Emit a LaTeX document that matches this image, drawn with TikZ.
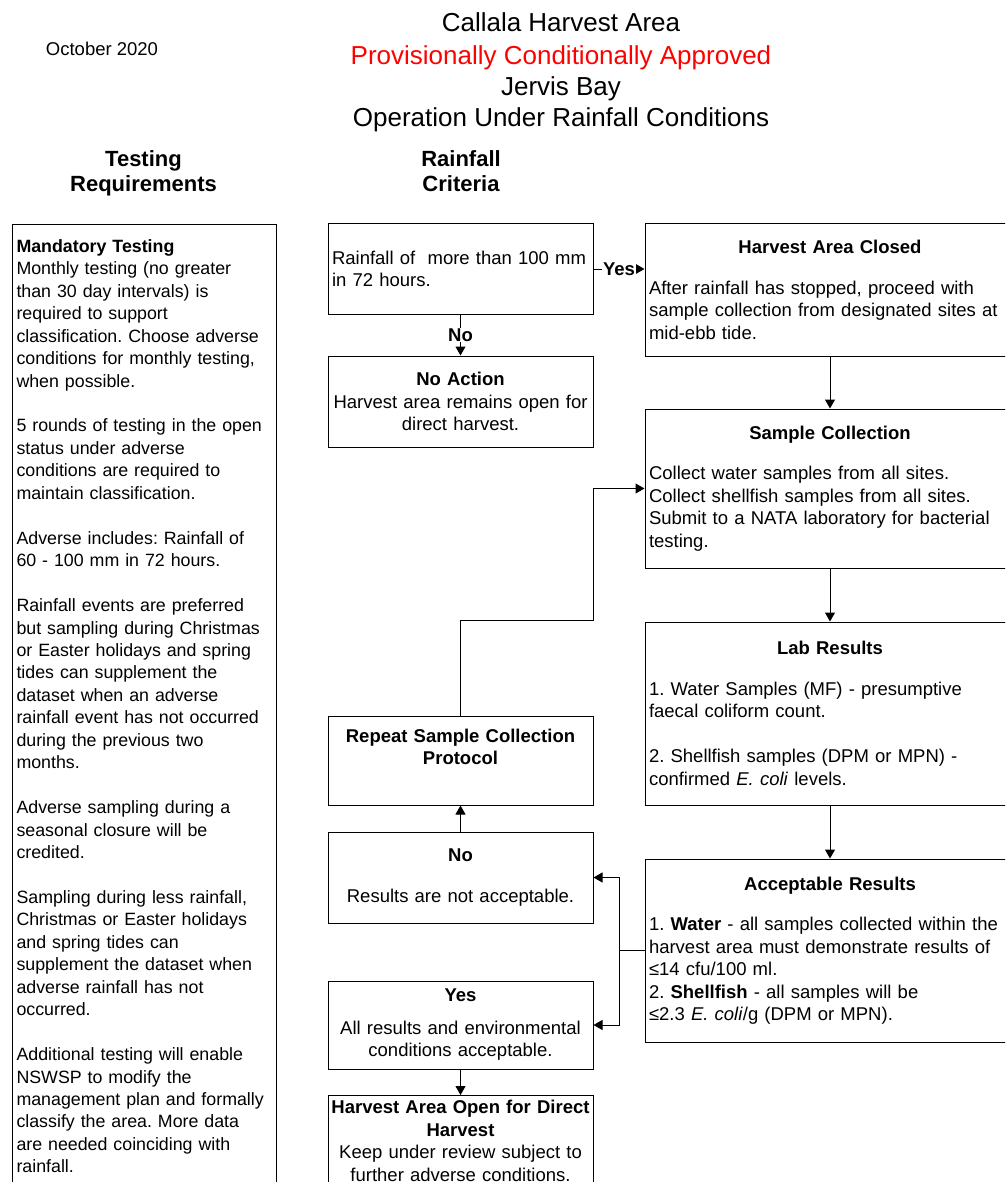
\documentclass[tikz,border=0pt]{standalone}
\usepackage{fontspec}
\setmainfont{Liberation Sans}
\usetikzlibrary{arrows.meta}
\frenchspacing
\newcommand\bodyfont{\fontsize{18.5}{22.5}\selectfont}
\newcommand\sidefont{\fontsize{17.8}{22.45}\selectfont}
\newcommand\boxhead[1]{\makebox[\hsize]{\textbf{#1}}}
\begin{document}
\begin{tikzpicture}[x=1pt, y=-1pt, >={Triangle[length=9pt,width=10pt]}, line width=1pt,
  flow/.style={draw, text width=#1, inner xsep=4pt, inner ysep=3pt, font=\bodyfont},
  flowl/.style={flow=257pt, align=center},
  flowr/.style={flow=362pt, align=left},
  tag/.style={fill=white, inner sep=1pt, font=\bodyfont\bfseries}]
\path[use as bounding box, clip](0,0) rectangle (1005,1182);

\foreach \txt/\yy/\col [count=\i] in {Callala Harvest Area/32/black, Provisionally Conditionally Approved/64.3/red, Jervis Bay/95.5/black, Operation Under Rainfall Conditions/126.7/black}
{
    \node[anchor=base, text=\col, font=\fontsize{26}{31}\selectfont](title\i) at (561,\yy){\txt};
}
\node[anchor=base, font=\bodyfont](date) at (102,55.5){October 2020};
\node[anchor=north, inner sep=0pt, align=center, font=\fontsize{22}{25.5}\selectfont\bfseries](testhead) at (143.5,150){Testing\\Requirements};
\node[anchor=north, inner sep=0pt, align=center, font=\fontsize{22}{25.5}\selectfont\bfseries](rainhead) at (461,150){Rainfall\\Criteria};

\node[draw, anchor=north west, text width=256pt, inner xsep=4pt, inner ysep=15pt, align=left, font=\sidefont](testreq) at (12,224){\textbf{Mandatory Testing}\\
Monthly testing (no greater\\
than 30 day intervals) is\\
required to support\\
classification. Choose adverse\\
conditions for monthly testing,\\
when possible.\\[22.45pt]
5 rounds of testing in the open\\
status under adverse\\
conditions are required to\\
maintain classification.\\[22.45pt]
Adverse includes: Rainfall of\\
60 - 100 mm in 72 hours.\\[22.45pt]
Rainfall events are preferred\\
but sampling during Christmas\\
or Easter holidays and spring\\
tides can supplement the\\
dataset when an adverse\\
rainfall event has not occurred\\
during the previous two\\
months.\\[22.45pt]
Adverse sampling during a\\
seasonal closure will be\\
credited.\\[22.45pt]
Sampling during less rainfall,\\
Christmas or Easter holidays\\
and spring tides can\\
supplement the dataset when\\
adverse rainfall has not\\
occurred.\\[22.45pt]
Additional testing will enable\\
NSWSP to modify the\\
management plan and formally\\
classify the area. More data\\
are needed coinciding with\\
rainfall.\rule[-40pt]{0pt}{0pt}};

\node[flow=257pt, align=left, minimum height=90pt](rain) at (460.5,269){Rainfall of\ \ more than 100 mm\\in 72 hours.};
\node[flowl, minimum height=91pt](noact) at (460.5,401.5){\textbf{No Action}\\Harvest area remains open for\\direct harvest.};
\node[flowr, minimum height=132pt](closed) at (830,290){\boxhead{Harvest Area Closed}\\[18pt]After rainfall has stopped, proceed with\\sample collection from designated sites at\\mid-ebb tide.};
\node[flowr, minimum height=159pt](sample) at (830,488.5){\boxhead{Sample Collection}\\[18pt]Collect water samples from all sites.\\Collect shellfish samples from all sites.\\Submit to a NATA laboratory for bacterial\\testing.};
\node[flowr, minimum height=183pt](lab) at (830,713.5){\boxhead{Lab Results}\\[18pt]1. Water Samples (MF) - presumptive\\faecal coliform count.\\[22.5pt]2. Shellfish samples (DPM or MPN) -\\confirmed \textit{E. coli} levels.};
\node[flowr, minimum height=183pt](accept) at (830,950.5){\boxhead{Acceptable Results}\\[18pt]1. \textbf{Water} - all samples collected within the\\harvest area must demonstrate results of\\≤14 cfu/100 ml.\\2. \textbf{Shellfish} - all samples will be\\≤2.3 \textit{E. coli}/g (DPM or MPN).};
\node[flowl, minimum height=89pt](repeat) at (460.5,760.5){\textbf{Repeat Sample Collection}\\\textbf{Protocol}\rule[-27pt]{0pt}{0pt}};
\node[flowl, minimum height=91pt](nores) at (460.5,877.5){\textbf{No}\\[18pt]Results are not acceptable.};
\node[flowl, minimum height=88pt](yesres) at (460.5,1025){\textbf{Yes}\\[10pt]All results and environmental\\conditions acceptable.};
\node[flowl, anchor=north, inner ysep=5pt](open) at (460.5,1095){\boxhead{Harvest Area Open for Direct}\\\textbf{Harvest}\\Keep under review subject to\\further adverse conditions.\rule[-30pt]{0pt}{0pt}};

\coordinate(bend) at (593,620);
\coordinate(fork) at (619,950.5);

\draw[->](rain.east) -- node[tag]{Yes} (rain.east -| closed.west);
\draw[->](rain) -- node[tag]{No} (noact);
\draw[->](closed) -- (sample);
\draw[->](sample) -- (lab);
\draw[->](lab) -- (accept);
\draw[->](nores) -- (repeat);
\draw[->](yesres) -- (open);
\draw[->](repeat.north) |- (bend) |- (sample.west);
\draw(accept.west) -- (fork);
\draw[->](fork) |- (nores.east);
\draw[->](fork) |- (yesres.east);
\end{tikzpicture}
\end{document}
